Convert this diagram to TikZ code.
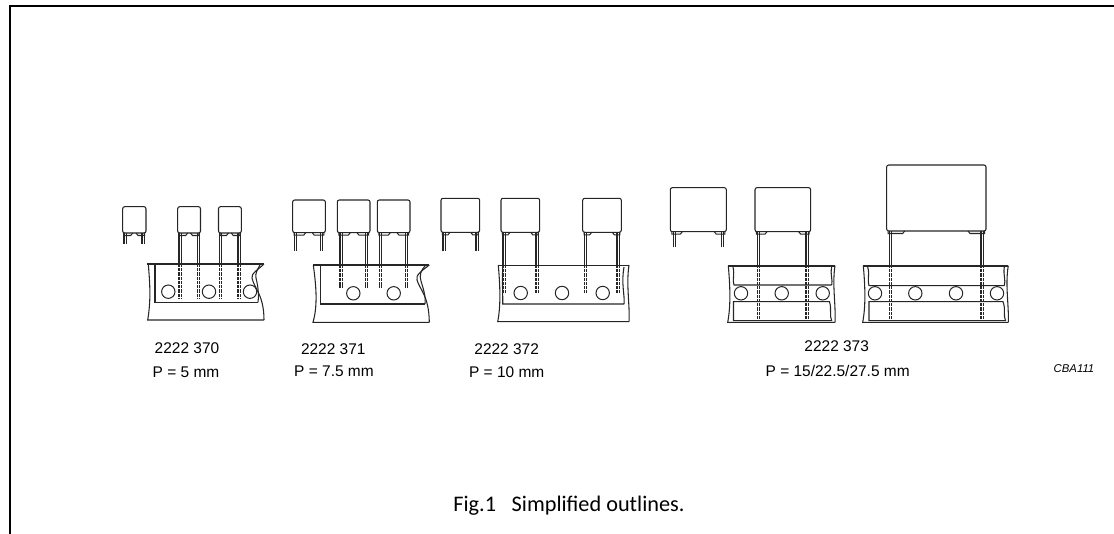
\documentclass[tikz,border=0pt]{standalone}
\usepackage{fontspec}
\setmainfont{Liberation Sans}
\newfontfamily\captionfont{Carlito}

\tikzset{
    outline/.style={line width=0.8pt, black!85},
    tapeline/.style={line width=0.8pt, black!85},
    tapetop/.style={line width=1.3pt, black!85},
    hole/.style={line width=0.75pt, black!85},
    pinline/.style={line width=0.8pt, double distance=0.7pt, black!85},
    pinbreak/.style={line width=3pt, white, dash pattern=on 0.8pt off 2.4pt},
    label/.style={inner sep=0pt, font=\fontsize{11.6pt}{13pt}\selectfont},
}

% body of a capacitor: left, right, top, bottom, width of one foot
\newcommand{\capbody}[5]{
    \draw[outline, rounded corners=1.5pt, fill=white] (#1,#4) -- (#1,#3) -- (#2,#3) -- (#2,#4) -- cycle;
    \draw[outline] ({#1+1.5},#4) -- ({#1+1.5},{#4+2.5}) -- ({#1+#5},{#4+2.5}) -- ({#1+#5+2},#4);
    \draw[outline] ({#2-1.5},#4) -- ({#2-1.5},{#4+2.5}) -- ({#2-#5},{#4+2.5}) -- ({#2-#5-2},#4);
}

\begin{document}
\begin{tikzpicture}[x=0.75pt, y=-0.75pt]

    \useasboundingbox (0,0) rectangle (1114,534);

    % this is the frame
    \draw[line width=1.5pt] (10,534) -- (10,6.5) -- (1114,6.5);

    % these are the leads of group 370
    \draw[pinline] (125,233) -- (125,244);
    \draw[pinline] (143,233) -- (143,244);
    \draw[pinline] (180,233) -- (180,299);
    \draw[pinline] (198.5,233) -- (198.5,299);
    \draw[pinline] (220.5,233) -- (220.5,299);
    \draw[pinline] (239,233) -- (239,299);
    \draw[pinbreak] (180,267) -- (180,299);
    \draw[pinbreak] (198.5,267) -- (198.5,299);
    \draw[pinbreak] (220.5,267) -- (220.5,299);
    \draw[pinbreak] (239,267) -- (239,299);

    % these are the bodies of group 370
    \capbody{122.7}{146}{206.7}{233}{8}
    \capbody{177.7}{200.5}{206.7}{233}{8}
    \capbody{218.5}{241.3}{206.7}{233}{8}

    % this is the tape of group 370
    \draw[tapetop] (146.5,264) -- (264,264);
    \draw[tapeline] (148.3,264) .. controls (150,285) and (151,300) .. (147.7,320) -- (264,320);
    \draw[tapeline] (264,264) .. controls (258,270) and (251,273) .. (252,278) .. controls (254,288) and (264,295) .. (264,320);
    \draw[tapeline] (155,265) -- (155,302.3) -- (258,302.3);
    \draw[tapeline] (260,265) .. controls (257,270) and (255,274) .. (256,278) .. controls (258,286) and (259,294) .. (258,302.3);
    \draw[hole] (168.3,291.7) circle (6.7);
    \draw[hole] (209,291.7) circle (6.7);
    \draw[hole] (250,291.7) circle (6.7);

    % these are the leads of group 371
    \draw[pinline] (295.7,232) -- (295.7,251);
    \draw[pinline] (321.7,232) -- (321.7,251);
    \draw[pinline] (341,232) -- (341,288);
    \draw[pinline] (366.3,232) -- (366.3,288);
    \draw[pinline] (380.7,232) -- (380.7,288);
    \draw[pinline] (406.3,232) -- (406.3,288);
    \draw[pinbreak] (341,268) -- (341,284);
    \draw[pinbreak] (366.3,268) -- (366.3,284);
    \draw[pinbreak] (380.7,268) -- (380.7,284);
    \draw[pinbreak] (406.3,268) -- (406.3,284);

    % these are the bodies of group 371
    \capbody{292.7}{325.3}{200}{232.7}{11}
    \capbody{337.3}{370}{200}{232.7}{11}
    \capbody{377.3}{410}{200}{232.7}{11}

    % this is the tape of group 371
    \draw[tapetop] (313.3,265) -- (429.3,265);
    \draw[tapeline] (313.3,265) .. controls (316,285) and (318,305) .. (313,322.3) -- (429.3,322.3);
    \draw[tapeline] (429.3,265) .. controls (423,270) and (415,275) .. (417,280) .. controls (420,290) and (429,296) .. (429.3,322.3);
    \draw[tapeline] (320.7,265) -- (320.7,304) -- (425,304);
    \draw[tapeline] (425,266) .. controls (421,270) and (419,276) .. (421,281) .. controls (423,288) and (426,296) .. (425,304);
    \draw[hole] (353.3,293.3) circle (6.7);
    \draw[hole] (393.7,293.3) circle (6.7);

    % these are the leads of group 372
    \draw[pinline] (444,232) -- (444,250.7);
    \draw[pinline] (477,232) -- (477,250.7);
    \draw[pinline] (504,232) -- (504,293);
    \draw[pinline] (537,232) -- (537,293);
    \draw[pinline] (585.7,232) -- (585.7,293);
    \draw[pinline] (618,232) -- (618,293);
    \draw[pinbreak] (504,268) -- (504,290);
    \draw[pinbreak] (537,268) -- (537,290);
    \draw[pinbreak] (585.7,268) -- (585.7,290);
    \draw[pinbreak] (618,268) -- (618,290);

    % these are the bodies of group 372
    \capbody{441}{479.7}{198.3}{232.3}{7}
    \capbody{501}{539.7}{198.3}{232.3}{7}
    \capbody{582.7}{621.3}{198.3}{232.3}{7}

    % this is the tape of group 372
    \draw[tapetop] (498.3,265.5) -- (629,265.5);
    \draw[tapeline] (498.3,265) .. controls (500,285) and (501,305) .. (497.7,321.7) -- (629,321.7);
    \draw[tapeline] (629,265) .. controls (626,285) and (630,305) .. (629,321.7);
    \draw[tapeline] (502.7,267) .. controls (502,285) and (503,295) .. (502.7,304) -- (624,304);
    \draw[tapeline] (624,267) .. controls (621,285) and (625,295) .. (624,304);
    \draw[hole] (520.7,293) circle (6.7);
    \draw[hole] (562,293) circle (6.7);
    \draw[hole] (602.7,293) circle (6.7);

    % these are the leads of the first part of group 373
    \draw[pinline] (674.3,231.5) -- (674.3,246.7);
    \draw[pinline] (722.7,231.5) -- (722.7,246.7);
    \draw[pinline] (758.7,231.5) -- (758.7,320);
    \draw[pinline] (807,231.5) -- (807,320);
    \draw[pinbreak] (758.7,268) -- (758.7,320);
    \draw[pinbreak] (807,268) -- (807,320);

    % these are the bodies of the first part of group 373
    \capbody{670.3}{726.3}{187.7}{231.7}{10}
    \capbody{755}{810.7}{187.7}{231.7}{10}

    % this is the tape of the first part of group 373
    \draw[tapetop] (728.3,265.7) -- (835,265.7);
    \draw[tapeline] (728.3,265.7) .. controls (730,285) and (731,305) .. (727.7,322.3) -- (835,322.3);
    \draw[tapeline] (835,265.7) .. controls (832,285) and (836,305) .. (835,322.3);
    \draw[tapeline] (733,267) .. controls (735,275) and (732,280) .. (734,285) -- (831.7,285);
    \draw[tapeline] (831.7,267) .. controls (830,275) and (833,280) .. (831.7,285);
    \draw[tapeline] (733.5,301.7) -- (829.5,301.7) .. controls (832,310) and (829,315) .. (831.7,320.7) -- (733.5,320.7) -- cycle;
    \draw[hole] (741,293.3) circle (6.7);
    \draw[hole] (781.7,293.3) circle (6.7);
    \draw[hole] (822.7,293.3) circle (6.7);

    % these are the leads of the second part of group 373
    \draw[pinline] (890.7,231.5) -- (890.7,320);
    \draw[pinline] (982,231.5) -- (982,320);
    \draw[pinbreak] (890.7,268) -- (890.7,320);
    \draw[pinbreak] (982,268) -- (982,320);

    % this is the body of the second part of group 373
    \capbody{886.7}{986}{165}{231}{16}

    % this is the tape of the second part of group 373
    \draw[tapetop] (863.3,265.7) -- (1008.3,265.7);
    \draw[tapeline] (863.3,265.7) .. controls (865,285) and (866,305) .. (862.7,322.3) -- (1008.3,322.3);
    \draw[tapeline] (1008.3,265.7) .. controls (1005,285) and (1009,305) .. (1008.3,322.3);
    \draw[tapeline] (867.7,267) .. controls (870,275) and (867,280) .. (869,285.7) -- (1004.3,285.7);
    \draw[tapeline] (1004.3,267) .. controls (1003,275) and (1006,280) .. (1004.3,285.7);
    \draw[tapeline] (869,301.7) -- (1003,301.7) .. controls (1006,310) and (1003,315) .. (1005.5,320.7) -- (869,320.7) -- cycle;
    \draw[hole] (875,293.3) circle (6.7);
    \draw[hole] (915.3,293.3) circle (6.7);
    \draw[hole] (956,293.3) circle (6.7);
    \draw[hole] (997,293.3) circle (6.7);

    % these are the labels
    \node[label] (type370) at (187,348) {2222 370};
    \node[label] (pitch370) at (186,372.7) {P = 5 mm};
    \node[label] (type371) at (333.3,349) {2222 371};
    \node[label] (pitch371) at (334,371.7) {P = 7.5 mm};
    \node[label] (type372) at (506.7,349) {2222 372};
    \node[label] (pitch372) at (506.7,371.7) {P = 10 mm};
    \node[label] (type373) at (836.7,346) {2222 373};
    \node[label] (pitch373) at (837.7,370.7) {P = 15/22.5/27.5 mm};
    \node[inner sep=0pt, font=\fontsize{8.5pt}{10pt}\selectfont\itshape] (code) at (1074,368.3) {CBA111};
    \node[inner sep=0pt, font=\captionfont\fontsize{16.7pt}{18pt}\selectfont] (caption) at (569,506) {Fig.1\hspace{0.7em}Simplified outlines.};

\end{tikzpicture}
\end{document}
